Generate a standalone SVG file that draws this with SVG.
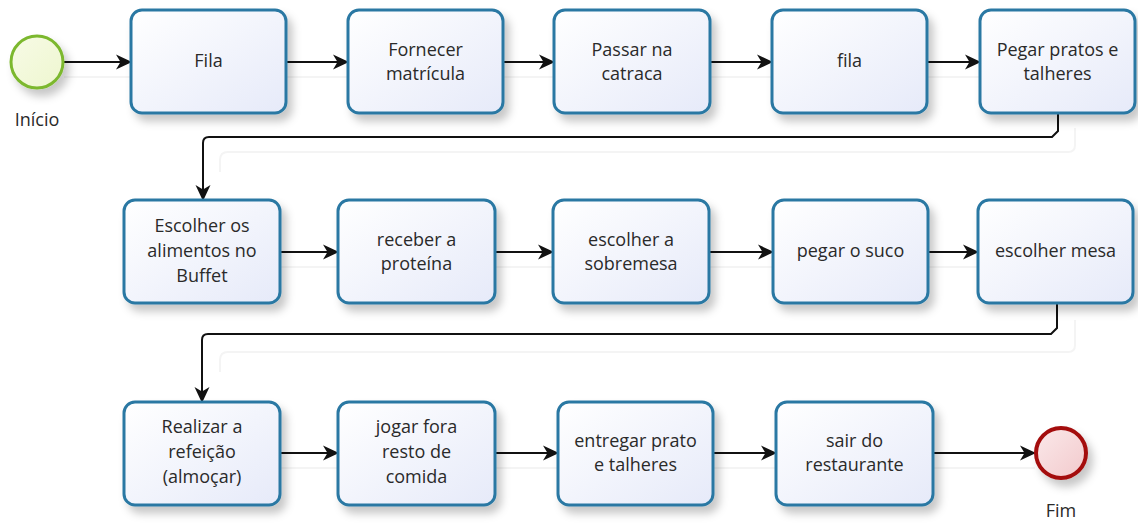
<svg xmlns="http://www.w3.org/2000/svg" width="1138" height="523" viewBox="0 0 1138 523">
<defs>
<linearGradient id="gTask" x1="0" y1="0" x2="1" y2="1">
<stop offset="0" stop-color="#ffffff"/>
<stop offset="1" stop-color="#e6eaf9"/>
</linearGradient>
<linearGradient id="gStart" x1="0" y1="0" x2="1" y2="1">
<stop offset="0" stop-color="#f7fbe6"/>
<stop offset="1" stop-color="#eef6cf"/>
</linearGradient>
<linearGradient id="gEnd" x1="0" y1="0" x2="1" y2="1">
<stop offset="0" stop-color="#fbe9ea"/>
<stop offset="1" stop-color="#f2c9cc"/>
</linearGradient>
<filter id="sh" x="-20%" y="-20%" width="150%" height="160%">
<feDropShadow dx="5" dy="7" stdDeviation="4" flood-color="#000" flood-opacity="0.22"/>
</filter>
<marker id="arr" markerWidth="18" markerHeight="18" refX="16" refY="9" orient="auto" markerUnits="userSpaceOnUse">
<path d="M1,1.5 L17,9 L1,16.5 L5.5,9 Z" fill="#111"/>
</marker>
</defs>
<style>
.task rect{fill:url(#gTask);stroke:#2a78a3;stroke-width:3;filter:url(#sh)}
.lbl{font-family:"Open Sans","Noto Sans",sans-serif;font-size:18px;fill:#2a2a2a;text-anchor:middle}
.conn path{fill:none;stroke:#111;stroke-width:2;marker-end:url(#arr)}
.ghost{fill:none;stroke:#f4f4f4;stroke-width:2}
</style>

<g id="ghosts">
<path class="ghost" d="M64,77 H131 M286,77 H348 M503,77 H554 M710,77 H772 M927,77 H980"/>
<path class="ghost" d="M220,172 V160 Q220,152 228,152 H1068 Q1075,152 1075,145 V128"/>
<path class="ghost" d="M280,267 H338 M495,267 H553 M709,267 H773 M928,267 H978"/>
<path class="ghost" d="M220,372 V360 Q220,352 228,352 H1068 Q1075,352 1075,345 V320"/>
<path class="ghost" d="M280,468 H338 M495,468 H558 M713,468 H776 M933,468 H1035"/>
</g>

<g id="connectors" class="conn">
<path d="M64,62 H131"/>
<path d="M286,62 H348"/>
<path d="M503,62 H554"/>
<path d="M710,62 H772"/>
<path d="M927,62 H980"/>
<path d="M1058,113 V131 L1052,137 H209 Q203,137 203,143 V200"/>
<path d="M280,252 H338"/>
<path d="M495,252 H553"/>
<path d="M709,252 H773"/>
<path d="M928,252 H978"/>
<path d="M1057,303 V328 L1051,334 H208 Q202,334 202,340 V402"/>
<path d="M280,453 H338"/>
<path d="M495,453 H558"/>
<path d="M713,453 H776"/>
<path d="M933,453 H1035"/>
</g>

<g id="inicio">
<circle cx="37" cy="62" r="26" fill="url(#gStart)" stroke="#7cb82f" stroke-width="3" filter="url(#sh)"/>
<text class="lbl" x="37" y="126">Início</text>
</g>

<g id="fila1" class="task"><rect x="131" y="10" width="155" height="103" rx="11"/>
<text class="lbl" x="208.5" y="67">Fila</text></g>
<g id="fornecer" class="task"><rect x="348" y="10" width="155" height="103" rx="11"/>
<text class="lbl" x="425.5" y="56">Fornecer</text><text class="lbl" x="425.5" y="80">matrícula</text></g>
<g id="passar" class="task"><rect x="554" y="10" width="156" height="103" rx="11"/>
<text class="lbl" x="632" y="56">Passar na</text><text class="lbl" x="632" y="80">catraca</text></g>
<g id="fila2" class="task"><rect x="772" y="10" width="155" height="103" rx="11"/>
<text class="lbl" x="849.5" y="67">fila</text></g>
<g id="pegar" class="task"><rect x="980" y="10" width="155" height="103" rx="11"/>
<text class="lbl" x="1057.5" y="56">Pegar pratos e</text><text class="lbl" x="1057.5" y="80">talheres</text></g>

<g id="escolherAlimentos" class="task"><rect x="124" y="200" width="156" height="103" rx="11"/>
<text class="lbl" x="202" y="232">Escolher os</text><text class="lbl" x="202" y="257">alimentos no</text><text class="lbl" x="202" y="282">Buffet</text></g>
<g id="receber" class="task"><rect x="338" y="200" width="157" height="103" rx="11"/>
<text class="lbl" x="416.5" y="246">receber a</text><text class="lbl" x="416.5" y="270">proteína</text></g>
<g id="sobremesa" class="task"><rect x="553" y="200" width="156" height="103" rx="11"/>
<text class="lbl" x="631" y="246">escolher a</text><text class="lbl" x="631" y="270">sobremesa</text></g>
<g id="suco" class="task"><rect x="773" y="200" width="155" height="103" rx="11"/>
<text class="lbl" x="850.5" y="257">pegar o suco</text></g>
<g id="mesa" class="task"><rect x="978" y="200" width="155" height="103" rx="11"/>
<text class="lbl" x="1055.5" y="257">escolher mesa</text></g>

<g id="refeicao" class="task"><rect x="124" y="402" width="156" height="103" rx="11"/>
<text class="lbl" x="202" y="433">Realizar a</text><text class="lbl" x="202" y="458">refeição</text><text class="lbl" x="202" y="483">(almoçar)</text></g>
<g id="jogar" class="task"><rect x="338" y="402" width="157" height="103" rx="11"/>
<text class="lbl" x="416.5" y="433">jogar fora</text><text class="lbl" x="416.5" y="458">resto de</text><text class="lbl" x="416.5" y="483">comida</text></g>
<g id="entregar" class="task"><rect x="558" y="402" width="155" height="103" rx="11"/>
<text class="lbl" x="635.5" y="447">entregar prato</text><text class="lbl" x="635.5" y="471">e talheres</text></g>
<g id="sair" class="task"><rect x="776" y="402" width="157" height="103" rx="11"/>
<text class="lbl" x="854.5" y="447">sair do</text><text class="lbl" x="854.5" y="471">restaurante</text></g>

<g id="fim">
<circle cx="1061" cy="453" r="25" fill="url(#gEnd)" stroke="#a40d0d" stroke-width="4" filter="url(#sh)"/>
<text class="lbl" x="1061" y="517">Fim</text>
</g>
</svg>
